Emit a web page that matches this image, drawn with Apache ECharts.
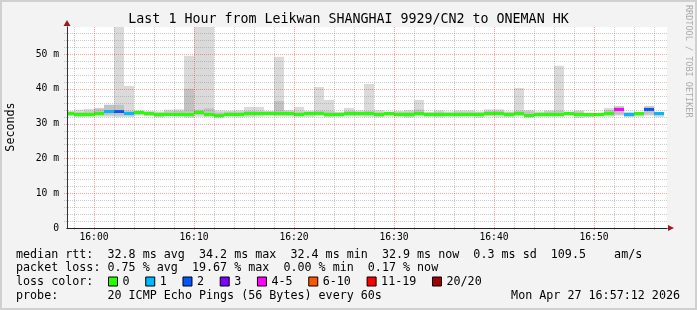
<!DOCTYPE html>
<html><head><meta charset="utf-8">
<script src="https://cdn.jsdelivr.net/npm/echarts@6/dist/echarts.min.js"></script>
<style>html,body{margin:0;padding:0;background:#f3f3f3}#c{width:697px;height:310px}</style>
</head><body><div id="c"></div>
<script>
// ---------------- data ----------------
const times = ['15:57','15:58','15:59','16:00','16:01','16:02','16:03','16:04','16:05','16:06',
  '16:07','16:08','16:09','16:10','16:11','16:12','16:13','16:14','16:15','16:16',
  '16:17','16:18','16:19','16:20','16:21','16:22','16:23','16:24','16:25','16:26',
  '16:27','16:28','16:29','16:30','16:31','16:32','16:33','16:34','16:35','16:36',
  '16:37','16:38','16:39','16:40','16:41','16:42','16:43','16:44','16:45','16:46',
  '16:47','16:48','16:49','16:50','16:51','16:52','16:53','16:54','16:55','16:56'];
const median = [32.85,32.6,32.7,32.85,33.5,33.5,32.95,33.15,32.85,32.5,
  32.75,32.7,32.55,33.05,32.7,32.4,32.7,32.7,32.8,32.85,
  33.0,32.85,32.8,32.7,32.85,33.0,32.6,32.7,32.8,32.8,
  32.8,32.55,32.8,32.7,32.55,32.8,32.7,32.6,32.7,32.65,
  32.75,32.6,32.85,32.9,32.6,32.85,32.45,32.7,32.7,32.75,
  32.95,32.6,32.5,32.7,32.85,34.15,32.6,32.8,34.1,32.85];
const lossCount = [0,0,0,0,1,2,1,0,0,0,
  0,0,0,0,0,0,0,0,0,0,
  0,0,0,0,0,0,0,0,0,0,
  0,0,0,0,0,0,0,0,0,0,
  0,0,0,0,0,0,0,0,0,0,
  0,0,0,0,0,4,1,0,2,1];
const smokeMax = [33.6,34.0,34.2,34.5,35.4,60,40.8,33.8,33.6,33.5,
  34.0,34.1,49.5,60,60,33.8,33.7,33.8,34.8,34.8,
  33.6,49.2,33.9,34.8,33.7,40.5,36.8,33.4,34.5,33.8,
  41.4,33.9,33.5,33.6,33.9,36.8,33.4,33.8,33.5,33.8,
  33.8,33.5,34.1,34.1,33.5,40.2,33.9,33.5,33.8,46.6,
  33.5,33.8,33.0,33.1,34.5,35.1,33.4,33.3,35.1,33.4];
const smokeMin = [32.1,31.9,31.9,32.0,32.0,31.8,31.9,32.3,32.1,31.8,
  32.0,31.9,31.7,32.0,31.9,31.6,31.9,31.8,31.9,32.0,
  32.1,32.0,32.0,31.9,31.9,32.1,31.8,31.9,32.0,32.0,
  31.9,31.8,32.0,31.9,31.7,32.0,31.9,31.8,31.9,31.9,
  31.9,31.7,32.0,31.8,31.8,32.0,31.7,31.9,31.9,31.9,
  32.1,31.6,31.9,32.0,32.0,32.3,31.9,32.0,32.3,31.9];
const smokeHi = [33.4,33.3,33.5,34.3,35.4,35.4,33.7,33.6,33.4,33.2,
  33.5,33.6,40.0,34.0,34.4,33.2,33.4,33.4,33.6,33.5,
  33.5,36.5,33.5,33.4,33.4,33.7,33.5,33.2,33.6,33.4,
  33.6,33.3,33.2,33.4,33.4,34.0,33.2,33.4,33.2,33.4,
  33.4,33.3,33.6,33.7,33.3,33.7,33.5,33.2,33.5,33.7,
  33.3,33.5,32.9,33.0,33.9,34.9,33.1,33.1,34.9,33.2];
const smokeLo = [32.3,32.05,32.15,32.3,32.4,32.3,32.3,32.6,32.3,31.95,
  32.2,32.15,32.0,32.5,32.15,31.85,32.15,32.15,32.25,32.3,
  32.45,32.3,32.25,32.15,32.3,32.45,32.05,32.15,32.25,32.25,
  32.25,32.0,32.25,32.15,32.0,32.25,32.15,32.05,32.15,32.1,
  32.2,32.05,32.3,32.35,32.05,32.3,31.9,32.15,32.15,32.2,
  32.4,32.05,31.95,32.15,32.3,32.6,32.05,32.25,32.6,32.3];
const lossBuckets = ['0','1','2','3','4-5','6-10','11-19','20/20'];
const lossBucketMax = [0,1,2,3,5,10,19,20];
const lossColors = ['#26ff00','#00b8ff','#0059ff','#7e00ff','#ff00ff','#ff5500','#ff0000','#a10000'];
const xTickValues = [0,10,20,30,40,50];
const xTickLabels = ['16:00','16:10','16:20','16:30','16:40','16:50'];
const yTickValues = [0,10,20,30,40,50];
const yTickLabels = ['0','10 m','20 m','30 m','40 m','50 m'];
const rttStats = ['32.8 ms avg','34.2 ms max','32.4 ms min','32.9 ms now','0.3 ms sd','109.5    am/s'];
const lossStats = ['0.75 % avg','19.67 % max','0.00 % min','0.17 % now'];
const titleText = 'Last 1 Hour from Leikwan SHANGHAI 9929/CN2 to ONEMAN HK';
const probeText = '20 ICMP Echo Pings (56 Bytes) every 60s';
const dateText = 'Mon Apr 27 16:57:12 2026';

// ---------------- helpers ----------------
const STEP = 1; // one sample per minute
const X_MIN = -2.7, X_MAX = 57.3, Y_MAX = 57.76;
const MONO = '"DejaVu Sans Mono", monospace';
const FONT = '11.7px ' + MONO;
function toMin(t){ const p = t.split(':').map(Number); return p[0]*60 + p[1] - 960; }
const xs = times.map(toMin);
function bucketOf(c){ for (let i = 0; i < lossBucketMax.length; i++) if (c <= lossBucketMax[i]) return i; return 7; }

function smokeRender(color){
  return function(params, api){
    const a = api.coord([api.value(0), api.value(2)]);
    const b = api.coord([api.value(0) + STEP, api.value(1)]);
    const x0 = Math.round(a[0]), x1 = Math.round(b[0]);
    return {type:'rect', shape:{x:x0, y:a[1], width:x1-x0, height:b[1]-a[1]}, style:{fill:color}};
  };
}
function medianRender(params, api){
  const a = api.coord([api.value(0), api.value(1)]);
  const b = api.coord([api.value(0) + STEP, api.value(1)]);
  const x0 = Math.round(a[0]), x1 = Math.round(b[0]);
  const y = Math.round(a[1] - 1.5);
  return {type:'rect', shape:{x:x0, y:y, width:x1-x0, height:3}, style:{fill: api.visual('color')}};
}
function vGrid(color){
  return function(params, api){
    const cs = params.coordSys;
    const x = Math.round(api.coord([api.value(0), 0])[0]) + 0.5;
    return {type:'line', shape:{x1:x, y1:cs.y, x2:x, y2:cs.y + cs.height + 2},
      style:{stroke:color, lineWidth:1, lineDash:[1,1]}};
  };
}
function hGrid(color){
  return function(params, api){
    const cs = params.coordSys;
    const y = Math.round(api.coord([X_MIN, api.value(1)])[1]) + 0.5;
    return {type:'line', shape:{x1:cs.x - 3, y1:y, x2:cs.x + cs.width, y2:y},
      style:{stroke:color, lineWidth:1, lineDash:[1,1]}};
  };
}

const outerData = xs.map((x,i)=>[x, smokeMin[i], smokeMax[i]]);
const innerData = xs.map((x,i)=>[x, smokeLo[i], smokeHi[i]]);

const xMinor = [], yMinor = [];
for (let v = -2; v <= 56; v += 2) if (xTickValues.indexOf(v) < 0) xMinor.push([v, 0]);
for (let v = 2; v <= 56; v += 2) if (yTickValues.indexOf(v) < 0) yMinor.push([0, v]);
const xMajor = xTickValues.map(v=>[v,0]);
const yMajor = yTickValues.filter(v=>v>0).map(v=>[0,v]);

const series = [
  {type:'custom', name:'smoke', renderItem: smokeRender('#dadada'), data: outerData, clip:true, z:2, silent:true, encode:{x:0,y:[1,2]}},
  {type:'custom', name:'smoke2', renderItem: smokeRender('#c2c2c2'), data: innerData, clip:true, z:2, silent:true, encode:{x:0,y:[1,2]}},
];
lossBuckets.forEach((name, bi) => {
  const d = [];
  xs.forEach((x,i)=>{ if (bucketOf(lossCount[i]) === bi) d.push([x, median[i]]); });
  series.push({type:'custom', name, renderItem: medianRender, data: d, clip:true, z:3,
    itemStyle:{color: lossColors[bi]}, encode:{x:0,y:1}, silent:true});
});
const MINOR = 'rgba(128,128,128,0.40)', MAJOR = 'rgba(255,0,0,0.37)';
series.push({type:'custom', name:'gx1', renderItem:vGrid(MINOR), data:xMinor, z:6, silent:true, encode:{x:0,y:1}});
series.push({type:'custom', name:'gy1', renderItem:hGrid(MINOR), data:yMinor, z:6, silent:true, encode:{x:0,y:1}});
series.push({type:'custom', name:'gx2', renderItem:vGrid(MAJOR), data:xMajor, z:6, silent:true, encode:{x:0,y:1}});
series.push({type:'custom', name:'gy2', renderItem:hGrid(MAJOR), data:yMajor, z:6, silent:true, encode:{x:0,y:1}});

const pad = (s, n) => s + ' '.repeat(Math.max(0, n - s.length));
const row1 = pad('median rtt:', 13) + rttStats.join('  ');
const row2 = pad('packet loss:', 13) + lossStats.join('  ');
const row4 = pad('probe:', 13) + probeText;

function txt(x, y, text, opts, rotation){
  return {type:'text', x, y, rotation: rotation || 0, silent:true,
    style:Object.assign({text, font:FONT, fill:'#000', align:'left', verticalAlign:'middle'}, opts||{})};
}

const chart = echarts.init(document.getElementById('c'), null, {renderer:'canvas'});
chart.setOption({
  animation:false,
  backgroundColor:'#f3f3f3',
  grid:{left:67, right:30, top:27, bottom:82, show:true, backgroundColor:'#ffffff', borderWidth:0},
  xAxis:[
    {type:'value', min:X_MIN, max:X_MAX, position:'bottom', z:3,
      axisLine:{onZero:false, lineStyle:{color:'#222', width:1}},
      axisTick:{show:false}, splitLine:{show:false},
      axisLabel:{customValues:xTickValues, margin:4.5, fontFamily:MONO, fontSize:9.7, color:'#000',
        formatter:(v)=>{const i = xTickValues.indexOf(Math.round(v)); return i>=0 ? xTickLabels[i] : '';}}},
    {type:'value', min:X_MIN, max:X_MAX, position:'bottom', z:1,
      axisLine:{onZero:false, symbol:['none','triangle'], symbolSize:[6,6], symbolOffset:[0,4], lineStyle:{color:'#9b1c1c', width:1}},
      axisTick:{show:false}, splitLine:{show:false}, axisLabel:{show:false}}
  ],
  yAxis:[
    {type:'value', min:0, max:Y_MAX, interval:10, position:'left', z:3,
      axisLine:{show:true, onZero:false, lineStyle:{color:'#333', width:1}},
      axisTick:{show:false}, splitLine:{show:false},
      axisLabel:{customValues:yTickValues, margin:8, fontFamily:MONO, fontSize:9.7, color:'#000',
        formatter:(v)=>{const i = yTickValues.indexOf(Math.round(v)); return i>=0 ? yTickLabels[i] : '';}}},
    {type:'value', min:0, max:Y_MAX, interval:10, position:'left', z:1,
      axisLine:{show:true, onZero:false, symbol:['none','triangle'], symbolSize:[7,6], symbolOffset:[0,4], lineStyle:{color:'#9b1c1c', width:1}},
      axisTick:{show:false}, splitLine:{show:false}, axisLabel:{show:false}}
  ],
  legend:{data:lossBuckets, left:108, top:275.5, padding:0, orient:'horizontal', icon:'rect',
    itemWidth:9, itemHeight:9, itemGap:15.7, selectedMode:false,
    itemStyle:{borderColor:'#000', borderWidth:1},
    textStyle:{fontFamily:MONO, fontSize:11.7, color:'#000'}},
  graphic:[
    {type:'rect', silent:true, shape:{x:1, y:1, width:695, height:308}, style:{fill:'none', stroke:'#d0d0d0', lineWidth:2}},
    txt(348.5, 19.3, titleText, {font:'13.3px ' + MONO, align:'center'}),
    txt(11, 127, 'Seconds', {align:'center'}, Math.PI/2),
    txt(688, 5, 'RRDTOOL / TOBI OETIKER', {font:'8.5px ' + MONO, fill:'#aaaaaa'}, -Math.PI/2),
    txt(16, 254.5, row1),
    txt(16, 268.3, row2),
    txt(16, 282.3, 'loss color:'),
    txt(16, 296.3, row4),
    txt(680, 296.3, dateText, {align:'right'})
  ],
  series
});
</script></body></html>
